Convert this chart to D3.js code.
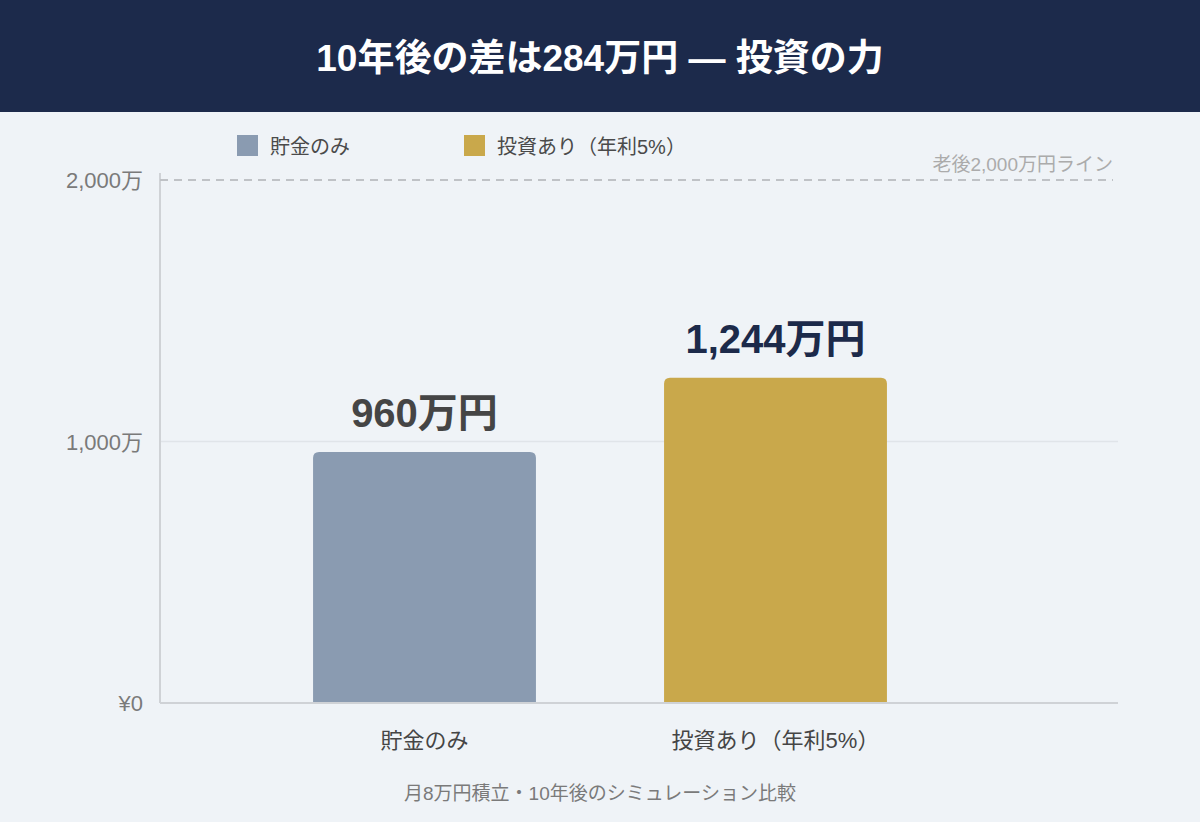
<!DOCTYPE html>
<html><head><meta charset="utf-8">
<script src="https://cdn.jsdelivr.net/npm/d3@7"></script>
<style>
html,body{margin:0;padding:0;background:#eff3f7;}
svg{display:block;font-family:"Liberation Sans","Noto Sans CJK JP",sans-serif;}
</style></head><body>
<svg id="c" width="1200" height="822"></svg>
<script>
const title = "10年後の差は284万円 — 投資の力";
const categories = ["貯金のみ", "投資あり（年利5%）"];
const values = [960, 1244];
const valueLabels = ["960万円", "1,244万円"];
const colors = ["#8a9bb1", "#c9a84b"];
const labelColors = ["#454545", "#1c2a4a"];
const yTicks = [0, 1000, 2000];
const yTickLabels = ["¥0", "1,000万", "2,000万"];
const refValue = 2000;
const refLabel = "老後2,000万円ライン";
const footer = "月8万円積立・10年後のシミュレーション比較";

const svg = d3.select("#c");
svg.append("rect").attr("width",1200).attr("height",822).attr("fill","#eff3f7");
svg.append("rect").attr("width",1200).attr("height",112).attr("fill","#1c2a4b");
svg.append("text").attr("x",600).attr("y",71).attr("text-anchor","middle")
  .attr("fill","#fff").attr("font-size",37).attr("font-weight",700).text(title);

const left=160, right=1118, bottom=703;
const y = d3.scaleLinear().domain([0,2000]).range([bottom,180]);
const x = d3.scaleBand().domain(categories).range([249,951]).paddingInner(0.365).paddingOuter(0.1825);

// legend
const leg = svg.append("g");
const legX = [237, 464];
categories.forEach((c,i)=>{
  leg.append("rect").attr("x",legX[i]).attr("y",135).attr("width",21).attr("height",21).attr("fill",colors[i]);
  leg.append("text").attr("x",legX[i]+33).attr("y",154).attr("font-size",20).attr("fill","#4a4a4a").text(c);
});

// gridline at 1000
svg.append("line").attr("x1",left).attr("x2",right).attr("y1",y(1000)).attr("y2",y(1000))
  .attr("stroke","#e0e4e9").attr("stroke-width",1.5);

// y axis line
svg.append("line").attr("x1",left).attr("x2",left).attr("y1",y(2000)-7).attr("y2",bottom)
  .attr("stroke","#cfd2d6").attr("stroke-width",2);
// tick labels
yTicks.forEach((t,i)=>{
  svg.append("text").attr("x",143).attr("y",y(t)+8).attr("text-anchor","end")
    .attr("font-size",22).attr("fill","#7a7a7a").text(yTickLabels[i]);
});

// bars
svg.selectAll("path.bar").data(values).enter().append("path").attr("class","bar")
  .attr("d",(d,i)=>{
    const x0=x(categories[i]), w=x.bandwidth(), y0=y(d), r=6;
    return `M${x0},${bottom}V${y0+r}Q${x0},${y0} ${x0+r},${y0}H${x0+w-r}Q${x0+w},${y0} ${x0+w},${y0+r}V${bottom}Z`;
  }).attr("fill",(d,i)=>colors[i]);

// x axis line
svg.append("line").attr("x1",left).attr("x2",right).attr("y1",bottom).attr("y2",bottom)
  .attr("stroke","#cfd2d6").attr("stroke-width",2);

// reference line
svg.append("line").attr("x1",left).attr("x2",1113).attr("y1",y(refValue)).attr("y2",y(refValue))
  .attr("stroke","#bfc2c6").attr("stroke-width",2).attr("stroke-dasharray","8,6");
svg.append("text").attr("x",1113).attr("y",y(refValue)-9).attr("text-anchor","end")
  .attr("font-size",19).attr("fill","#ababab").text(refLabel);

// value labels
values.forEach((v,i)=>{
  svg.append("text").attr("x",x(categories[i])+x.bandwidth()/2).attr("y",y(v)-25)
    .attr("text-anchor","middle").attr("font-size",40).attr("font-weight",700)
    .attr("fill",labelColors[i]).text(valueLabels[i]);
});

// x labels
categories.forEach((c,i)=>{
  svg.append("text").attr("x",x(c)+x.bandwidth()/2).attr("y",748).attr("text-anchor","middle")
    .attr("font-size",22).attr("fill","#454545").text(c);
});

svg.append("text").attr("x",600).attr("y",800).attr("text-anchor","middle")
  .attr("font-size",19).attr("fill","#7a7a7a").text(footer);
</script></body></html>
